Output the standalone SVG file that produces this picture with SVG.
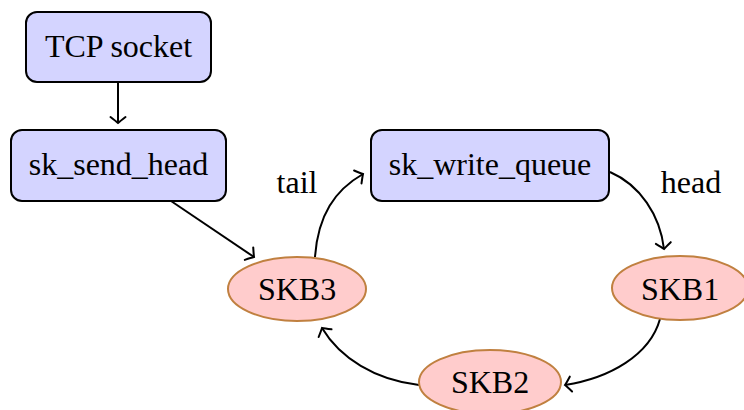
<svg xmlns="http://www.w3.org/2000/svg" width="744" height="410" viewBox="0 0 744 410">
<style>
.box{fill:#d4d4ff;stroke:#000;stroke-width:2}
.skb{fill:#ffcccc;stroke:#c08040;stroke-width:2}
.c{fill:none;stroke:#000;stroke-width:2}
</style>
<defs>
<marker id="ar" markerUnits="userSpaceOnUse" viewBox="-10 -10 12 20" refX="0" refY="0" markerWidth="12" markerHeight="20" orient="auto" overflow="visible">
<path d="M-6,-7.5 Q-1.8,-2 0,0 Q-1.8,2 -6,7.5" fill="none" stroke="#000" stroke-width="2" stroke-linecap="round"/>
</marker>
</defs>
<g font-family="Liberation Serif, Times New Roman, DejaVu Serif, serif" font-size="32" text-anchor="middle" fill="#000">
<g id="connectors">
<path class="c" d="M118,82 L118,123" marker-end="url(#ar)"/>
<path class="c" d="M171,201 L254,257" marker-end="url(#ar)"/>
<path class="c" d="M315,257 C318,215 335,190 363,174" marker-end="url(#ar)"/>
<path class="c" d="M610,172 C640,185 660,215 664,249" marker-end="url(#ar)"/>
<path class="c" d="M660,319 C650,355 610,378 565,385" marker-end="url(#ar)"/>
<path class="c" d="M419,385 C375,380 340,358 322,328" marker-end="url(#ar)"/>
<text x="297" y="193">tail</text>
<text x="691" y="193">head</text>
</g>
<g id="tcp_socket">
<rect class="box" x="26" y="12" width="185" height="70" rx="11"/>
<text x="118.5" y="57">TCP socket</text>
</g>
<g id="sk_send_head">
<rect class="box" x="11" y="130" width="215" height="71" rx="11"/>
<text x="118.5" y="175">sk_send_head</text>
</g>
<g id="sk_write_queue">
<rect class="box" x="371" y="130" width="238" height="71" rx="11"/>
<text x="490" y="175">sk_write_queue</text>
</g>
<g id="skb3">
<ellipse class="skb" cx="297" cy="289" rx="69" ry="32"/>
<text x="297" y="300">SKB3</text>
</g>
<g id="skb1">
<ellipse class="skb" cx="680" cy="288" rx="68" ry="32"/>
<text x="680" y="300">SKB1</text>
</g>
<g id="skb2">
<ellipse class="skb" cx="490" cy="382" rx="71" ry="32"/>
<text x="490" y="393">SKB2</text>
</g>
</g>
</svg>
